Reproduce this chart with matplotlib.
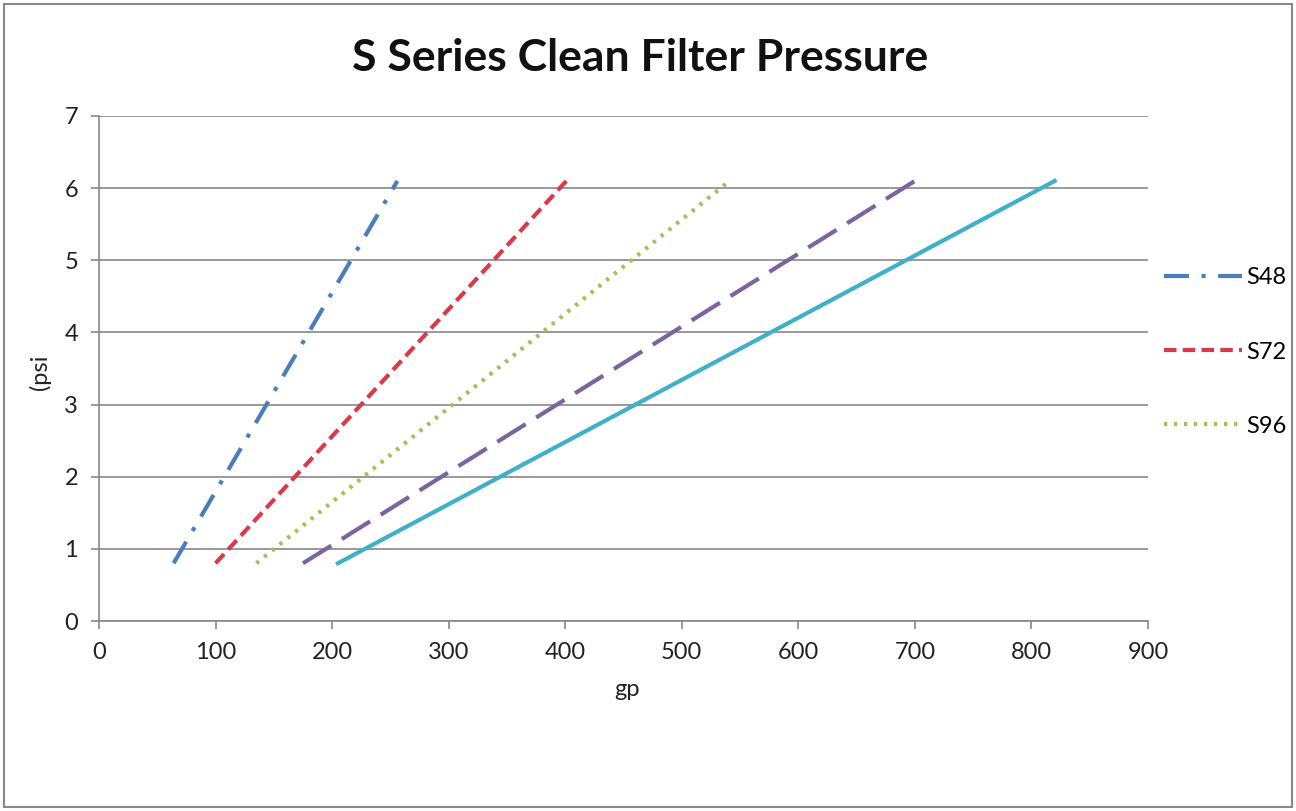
import matplotlib.pyplot as plt
from matplotlib.patches import Rectangle

plt.rcParams['font.family'] = ['Lato', 'DejaVu Sans']

# series data (gpm, psi)
s48_x = [64, 256]
s48_y = [0.8, 6.1]
s72_x = [100, 401]
s72_y = [0.8, 6.1]
s96_x = [135, 541]
s96_y = [0.8, 6.1]
s120_x = [175, 700]
s120_y = [0.8, 6.1]
s144_x = [205, 820]
s144_y = [0.8, 6.1]

x_ticks = [0, 100, 200, 300, 400, 500, 600, 700, 800, 900]
y_ticks = [0, 1, 2, 3, 4, 5, 6, 7]

fig = plt.figure(figsize=(12.96, 8.11), dpi=100)
ax = fig.add_axes([99 / 1296, 1 - 621 / 811, (1148 - 99) / 1296, (621 - 116) / 811])

lw = 3.0
l1, = ax.plot(s48_x, s48_y, color='#4A7EBB', lw=lw, dashes=(6, 3, 1, 3), label='S48')
l2, = ax.plot(s72_x, s72_y, color='#D93A4A', lw=lw, dashes=(3, 1.5), label='S72')
l3, = ax.plot(s96_x, s96_y, color='#A8BE5A', lw=lw, dashes=(0.8, 1.6), label='S96')
l4, = ax.plot(s120_x, s120_y, color='#7B64A0', lw=lw, dashes=(8, 3), label='S120')
l5, = ax.plot(s144_x, s144_y, color='#3FB0C8', lw=lw, label='S144')

ax.set_xlim(0, 900)
ax.set_ylim(0, 7)
ax.set_xticks(x_ticks)
ax.set_yticks(y_ticks)
ax.grid(axis='y', color='#888888', lw=1.2)
ax.set_axisbelow(True)
for s in ['top', 'right']:
    ax.spines[s].set_visible(False)
for s in ['left', 'bottom']:
    ax.spines[s].set_color('#888888')
    ax.spines[s].set_linewidth(1.2)
ax.tick_params(colors='#888888', labelcolor='#222222', labelsize=17, length=6, width=1.2)
ax.tick_params(axis='x', pad=9)
ax.tick_params(axis='y', pad=9)

fig.text(640 / 1296, 1 - 58 / 811, 'S Series Clean Filter Pressure', ha='center', va='center',
         fontsize=32, fontweight='bold', color='#111111')
fig.text(627 / 1296, 1 - 690 / 811, 'gp', ha='center', va='center', fontsize=17, color='#222222')
fig.text(40 / 1296, 1 - 372 / 811, '(psi', ha='center', va='center', fontsize=17,
         rotation=90, color='#222222')

fig.legend(handles=[l1, l2, l3], loc='upper left', bbox_to_anchor=(1155 / 1296, 1 - 258 / 811),
           frameon=False, fontsize=17, handlelength=3.3, handletextpad=0.15,
           labelspacing=2.25, borderaxespad=0)

fig.patches.append(Rectangle((4 / 1296, 4 / 811), 1288 / 1296, 803 / 811, transform=fig.transFigure,
                             fill=False, edgecolor='#888888', lw=1.5))

fig.savefig('out.png', dpi=100)
